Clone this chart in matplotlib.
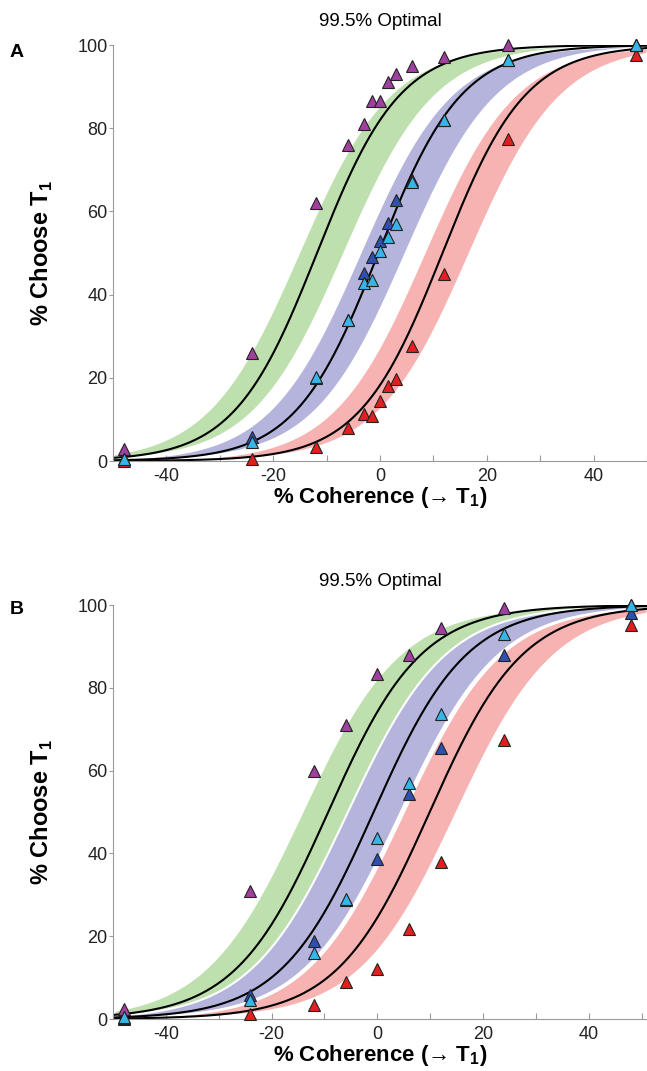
import numpy as np
import matplotlib
matplotlib.use("Agg")
import matplotlib.pyplot as plt

plt.rcParams['font.family'] = ['Liberation Sans', 'DejaVu Sans']
plt.rcParams['mathtext.fontset'] = 'custom'
plt.rcParams['mathtext.rm'] = 'Liberation Sans'
plt.rcParams['mathtext.bf'] = 'Liberation Sans:bold'

# coherence levels
coh_A = [-48, -24, -12, -6, -3, -1.5, 0, 1.5, 3, 6, 12, 24, 48]
coh_B = [-48, -24, -12, -6, 0, 6, 12, 24, 48]

# % choose T1, panel A
purple_A = [3, 26, 62, 76, 81, 86.5, 86.5, 91, 93, 95, 97, 100, 100]
red_A = [0, 0.6, 3.4, 8, 11.3, 10.7, 14.5, 18, 19.6, 27.6, 45, 77.4, 97.6]
blue_A = [0.5, 5.8, 20, 34, 45.3, 49, 53, 57.3, 62.7, 67.5, 82, 96.5, 100]
cyan_A = [0.6, 4.6, 20.3, 33.9, 42.7, 43.5, 50.5, 53.9, 56.9, 67, 82, 96.4, 100]

# % choose T1, panel B
purple_B = [2.4, 31, 60, 71, 83.3, 88, 94.5, 99.2, 100]
red_B = [0, 1.2, 3.5, 8.9, 12, 21.7, 38, 67.4, 95.2]
blue_B = [0.3, 5.8, 18.8, 28.8, 38.6, 54.3, 65.5, 88, 98]
cyan_B = [0.5, 4.6, 16, 29, 43.8, 57, 73.6, 93, 100]

# fitted logistic curves (midpoint, spread) for green / blue / red
mu_A = [-11.8, -0.3, 11.7]
s_A = 7.8
mu_B = [-9.3, -0.7, 9.9]
s_B = 8.8
# optimal bands: shift of lower / upper edge and spread factor
band_A = (-3.5, 5.0, 1.1)
band_B = (-5.0, 5.0, 1.05)

band_colors = ['#bde0ae', '#b4b4dc', '#f7b2b2']
pt_colors = {'purple': '#a040a0', 'red': '#e41e1e', 'blue': '#3050b0', 'cyan': '#36b6e6'}


def logistic(x, mu, s):
    return 100.0 / (1.0 + np.exp(-(x - mu) / s))


fig = plt.figure(figsize=(6.47, 10.71), dpi=100)
axA = fig.add_axes([113/647, 1-461/1071, 534/647, 416/1071])
axB = fig.add_axes([113/647, 1-1019/1071, 534/647, 414/1071])

panels = [(axA, coh_A, [purple_A, red_A, blue_A, cyan_A], mu_A, s_A, band_A, (-50, 50), 'A', 0.983),
          (axB, coh_B, [purple_B, red_B, blue_B, cyan_B], mu_B, s_B, band_B, (-49.8, 51), 'B', 0.988)]

for ax, coh, series, mus, s, band, xl, letter, ly in panels:
    xx = np.linspace(xl[0], xl[1], 400)
    lo, hi, k = band
    for mu, bc in zip(mus, band_colors):
        ax.fill_between(xx, logistic(xx, mu + hi, s * k), logistic(xx, mu + lo, s * k),
                        facecolor=bc, edgecolor='white', linewidth=1.5, zorder=1)
    for mu in mus:
        ax.plot(xx, logistic(xx, mu, s), color='black', lw=1.5, zorder=2)
    for vals, name in zip(series, ['purple', 'red', 'blue', 'cyan']):
        ax.plot(coh, vals, linestyle='none', marker='^', markersize=9,
                markerfacecolor=pt_colors[name], markeredgecolor='#222222',
                markeredgewidth=0.8, clip_on=False, zorder=3)

    ax.set_xlim(xl)
    ax.set_ylim(0, 100)
    ax.spines['top'].set_visible(False)
    ax.spines['right'].set_visible(False)
    ax.spines['left'].set_color('#9a9a9a')
    ax.spines['bottom'].set_color('#9a9a9a')
    ax.set_xticks(range(-50, 51, 10))
    ax.set_xticklabels(['' if (t % 20 or abs(t) == 50) else str(t) for t in range(-50, 51, 10)])
    ax.set_yticks(range(0, 101, 20))
    ax.tick_params(axis='x', direction='in', length=4, color='#9a9a9a', labelsize=13, pad=5,
                   labelcolor='#222222')
    ax.tick_params(axis='y', direction='out', length=3, color='#9a9a9a', labelsize=13, pad=1,
                   labelcolor='#222222')
    ax.set_xlabel('% Coherence (→ T$_{\\mathbf{1}}$)', fontsize=16, fontweight='bold', labelpad=0)
    ax.set_ylabel('% Choose T$_{\\mathbf{1}}$', fontsize=17, fontweight='bold', labelpad=16)
    ax.set_title('99.5% Optimal', fontsize=13.5, pad=14)
    ax.text(-0.193, ly, letter, transform=ax.transAxes, fontsize=14, fontweight='bold', va='center')

fig.savefig('out.png', dpi=100)
